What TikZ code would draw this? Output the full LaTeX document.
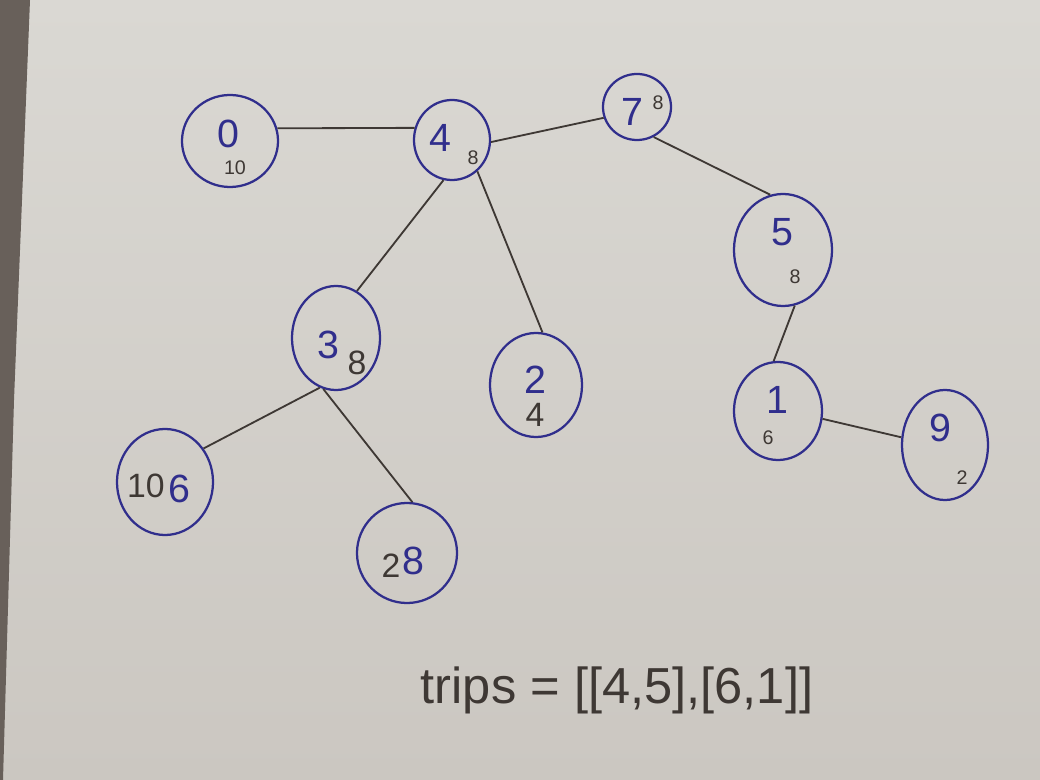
\documentclass[tikz,border=0pt]{standalone}
\usepackage{fontspec}
\setmainfont{Liberation Sans}
\usetikzlibrary{shapes.geometric}
\definecolor{paperT}{RGB}{218,216,211}
\definecolor{paperB}{RGB}{203,199,193}
\definecolor{pageEdge}{RGB}{104,96,90}
\definecolor{inkB}{RGB}{48,46,140}
\definecolor{inkK}{RGB}{62,56,52}

\begin{document}
\begin{tikzpicture}[x=0.025cm, y=-0.025cm,
  every node/.style={inner sep=0pt},
  vtx/.style={ellipse, draw=inkB, line width=1.6pt},
  num/.style={text=inkB, font=\fontsize{28}{30}\selectfont},
  wt/.style={text=inkK, font=\fontsize{14}{16}\selectfont},
  wtbig/.style={text=inkK, font=\fontsize{24}{26}\selectfont},
  edge/.style={draw=inkK, line width=1.3pt}
]
  \useasboundingbox (0,0) rectangle (1040,780);
  \shade[top color=paperT, bottom color=paperB] (0,0) rectangle (1040,780);
  \fill[pageEdge] (0,0) -- (30,0) -- (14,400) -- (3,780) -- (0,780) -- cycle;

  % vertices
  \node[vtx, minimum width=2.4cm, minimum height=2.3cm] (v0) at (230,141) {};
  \node[vtx, minimum width=1.9cm, minimum height=2.0cm] (v4) at (452,140) {};
  \node[vtx, minimum width=1.7cm, minimum height=1.65cm] (v7) at (637,107) {};
  \node[vtx, minimum width=2.45cm, minimum height=2.8cm] (v5) at (783,250) {};
  \node[vtx, minimum width=2.2cm, minimum height=2.6cm] (v3) at (336,338) {};
  \node[vtx, minimum width=2.3cm, minimum height=2.6cm] (v2) at (536,385) {};
  \node[vtx, minimum width=2.2cm, minimum height=2.45cm] (v1) at (778,411) {};
  \node[vtx, minimum width=2.15cm, minimum height=2.75cm] (v9) at (945,445) {};
  \node[vtx, minimum width=2.4cm, minimum height=2.65cm] (v6) at (165,482) {};
  \node[vtx, minimum width=2.5cm, minimum height=2.5cm] (v8) at (407,553) {};

  % values and weights
  \node[num] (v0n) at (228,134) {0};
  \node[wt] (v0w) at (235,168) {10};
  \node[num] (v4n) at (440,138) {4};
  \node[wt] (v4w) at (473,158) {8};
  \node[num] (v7n) at (632,112) {7};
  \node[wt] (v7w) at (658,103) {8};
  \node[num] (v5n) at (782,232) {5};
  \node[wt] (v5w) at (795,277) {8};
  \node[num] (v3n) at (328,345) {3};
  \node[wtbig] (v3w) at (357,363) {8};
  \node[num] (v2n) at (535,380) {2};
  \node[wtbig] (v2w) at (535,415) {4};
  \node[num] (v1n) at (777,400) {1};
  \node[wt] (v1w) at (768,438) {6};
  \node[num] (v9n) at (940,428) {9};
  \node[wt] (v9w) at (962,478) {2};
  \node[wtbig] (v6w) at (146,486) {10};
  \node[num] (v6n) at (179,489) {6};
  \node[wtbig] (v8w) at (391,566) {2};
  \node[num] (v8n) at (413,561) {8};

  % edges
  \draw[edge] (v0.15) -- (v4.162);
  \draw[edge] (v4.-3) -- (v7.198);
  \draw[edge] (v7.-61) -- (v5.103);
  \draw[edge] (v4.258) -- (v3.66);
  \draw[edge] (v4.-51) -- (v2.83);
  \draw[edge] (v5.-78) -- (v1.95);
  \draw[edge] (v1.-10) -- (v9.170);
  \draw[edge] (v6.41) -- (v3.252);
  \draw[edge] (v3.256) -- (v8.84);

  \node[text=inkK, font=\fontsize{36}{40}\selectfont] (trips) at (617,690) {trips = [[4,5],[6,1]]};
\end{tikzpicture}
\end{document}
